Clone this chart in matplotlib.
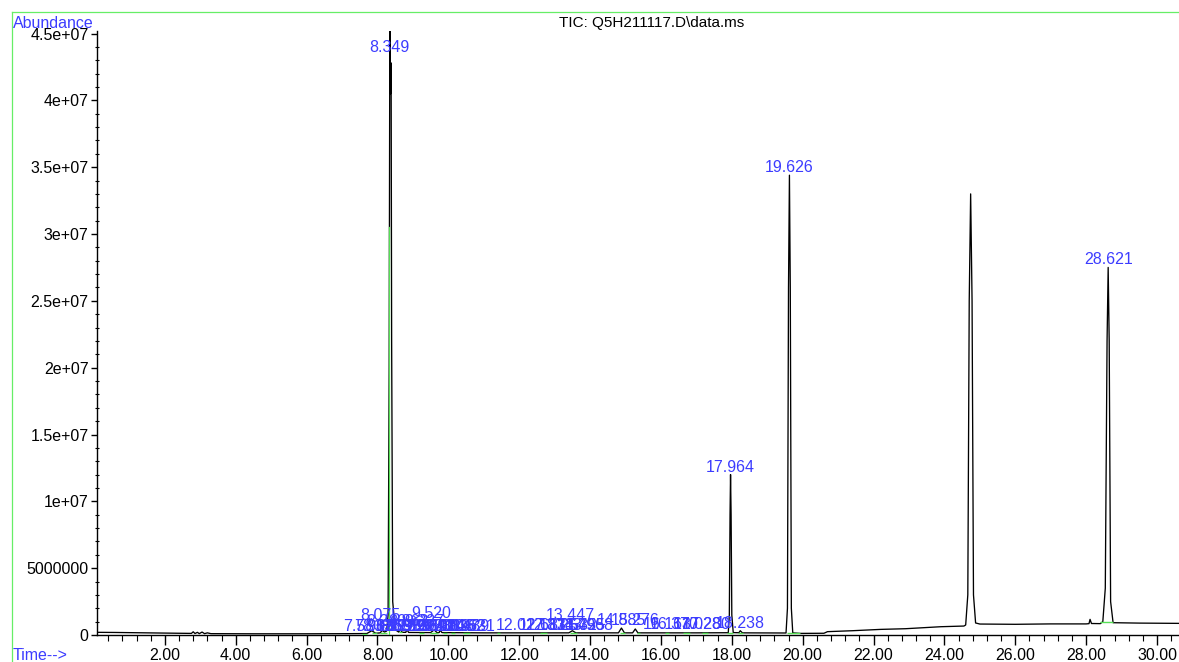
import matplotlib
matplotlib.use("Agg")
import matplotlib.pyplot as plt
from matplotlib.lines import Line2D
from matplotlib.ticker import FixedLocator, FixedFormatter, MultipleLocator

plt.rcParams['font.family'] = ['Liberation Sans', 'DejaVu Sans']

# ---- total ion chromatogram (time in min, abundance) ----
trace_time = [
    0.085, 0.6, 1.2, 1.8, 2.4, 2.75, 2.8, 2.85, 2.92, 2.97, 3.05, 3.12, 3.2, 3.3,
    4.5, 6.0, 7.2, 7.7, 7.84, 7.95, 8.08, 8.13, 8.2, 8.26, 8.30, 8.33, 8.349,
    8.37, 8.385, 8.40, 8.43, 8.50, 8.6, 8.64, 8.7, 8.8, 8.83, 8.88, 9.5, 9.6,
    9.68, 9.74, 9.77, 9.82, 11.0, 13.4, 13.5, 13.6, 14.8, 14.885, 14.97, 15.2,
    15.276, 15.35, 17.0, 17.90, 17.93, 17.95, 17.964, 17.98, 18.00, 18.04, 18.2,
    18.238, 18.3, 19.53, 19.57, 19.60, 19.626, 19.65, 19.68, 19.72, 19.93, 20.6,
    20.7, 21.4, 22.2, 22.9, 23.9, 24.55, 24.60, 24.66, 24.70, 24.74, 24.78,
    24.82, 24.88, 25.0, 26.0, 27.0, 28.0, 28.08, 28.11, 28.15, 28.4, 28.47,
    28.54, 28.59, 28.621, 28.65, 28.69, 28.76, 29.5, 30.62,
]
trace_abund = [
    2.0e5, 1.9e5, 1.7e5, 1.5e5, 1.3e5, 1.2e5, 2.4e5, 1.1e5, 2.0e5, 1.0e5, 2.2e5, 1.0e5, 1.6e5, 1.0e5,
    9.0e4, 9.0e4, 1.0e5, 1.1e5, 3.2e5, 1.3e5, 1.6e5, 3.5e5, 2.2e5, 3.0e5, 1.5e6, 2.0e7, 4.6e7,
    4.05e7, 4.28e7, 2.2e7, 2.5e6, 4.0e5, 2.2e5, 4.0e5, 2.0e5, 2.0e5, 4.0e5, 1.9e5, 1.8e5, 3.8e5,
    1.8e5, 1.8e5, 3.6e5, 1.8e5, 1.6e5, 1.6e5, 3.2e5, 1.6e5, 1.6e5, 5.2e5, 1.6e5, 1.6e5,
    4.5e5, 1.6e5, 1.6e5, 1.7e5, 1.5e6, 9.0e6, 1.2e7, 9.0e6, 1.5e6, 1.8e5, 1.7e5,
    3.2e5, 1.6e5, 1.5e5, 2.0e6, 2.6e7, 3.44e7, 2.6e7, 2.0e6, 1.6e5, 1.2e5, 1.3e5,
    2.5e5, 3.2e5, 4.2e5, 4.7e5, 6.2e5, 6.7e5, 7.5e5, 3.0e6, 2.5e7, 3.30e7, 2.5e7,
    3.0e6, 9.0e5, 8.2e5, 8.0e5, 8.3e5, 8.3e5, 8.5e5, 1.17e6, 8.6e5, 8.5e5, 1.0e6,
    3.5e6, 2.2e7, 2.75e7, 2.2e7, 2.5e6, 9.2e5, 8.9e5, 8.7e5,
]

# ---- labelled main peaks (retention time, min) ----
major_rt = [8.349, 17.964, 19.626, 28.621]

# ---- small integrated peaks: retention time and label height ----
minor_rt = [7.583, 7.902, 8.075, 8.136, 8.240, 8.512, 8.651, 8.789, 8.862, 8.935,
            9.107, 9.278, 9.327, 9.384, 9.520, 9.642, 9.788, 9.914, 10.046, 10.197,
            10.352, 10.489, 10.631, 12.027, 12.681, 12.874, 13.254, 13.447, 13.532,
            13.755, 13.968, 14.885, 15.276, 16.163, 16.370, 17.028, 17.280, 18.238]
minor_level = [5e4, 5e4, 9e5, 5e4, 4.5e5, 5e4, 5e4, 5e4, 4.5e5, 5e4,
               5e4, 5e4, 4.5e5, 5e4, 1.05e6, 5e4, 5e4, 5e4, 5e4, 5e4,
               5e4, 5e4, 5e4, 1.5e5, 1.5e5, 1.5e5, 1.5e5, 9e5, 1.5e5,
               1.5e5, 1.5e5, 5.2e5, 5.2e5, 2.2e5, 2.2e5, 2.2e5, 2.2e5, 3.2e5]

# ---- integration baselines (start, end, abundance) ----
base_start = [7.56, 7.85, 8.07, 8.60, 9.16, 9.48, 9.85, 10.07, 10.41, 11.37, 12.59,
              13.43, 14.85, 15.33, 16.12, 16.62, 17.16, 17.87, 18.18, 19.56, 28.39]
base_end = [7.70, 7.99, 8.27, 8.70, 9.30, 9.71, 9.96, 10.18, 10.61, 11.46, 12.79,
            13.63, 14.99, 15.41, 16.23, 16.82, 17.33, 18.04, 18.32, 19.93, 28.76]
base_level = [1.1e5, 1.2e5, 1.6e5, 2.0e5, 1.8e5, 1.8e5, 1.8e5, 1.7e5, 1.7e5, 1.6e5, 1.6e5,
              1.6e5, 1.6e5, 1.6e5, 1.6e5, 1.6e5, 1.6e5, 1.7e5, 1.7e5, 1.3e5, 9.6e5]
split_rt = 8.32
split_top = 3.05e7

# ---- axis ticks ----
ytick_values = [0, 5e6, 1e7, 1.5e7, 2e7, 2.5e7, 3e7, 3.5e7, 4e7, 4.5e7]
ytick_labels = ["0", "5000000", "1e+07", "1.5e+07", "2e+07", "2.5e+07",
                "3e+07", "3.5e+07", "4e+07", "4.5e+07"]
xtick_values = [2, 4, 6, 8, 10, 12, 14, 16, 18, 20, 22, 24, 26, 28, 30]
xtick_labels = ["%.2f" % v for v in xtick_values]

title_text = "TIC: Q5H211117.D\\data.ms"

W, H = 1179, 662
fig = plt.figure(figsize=(W / 100, H / 100), dpi=100)
ax = fig.add_axes([97 / W, (H - 635) / H, (W - 97) / W, (635 - 30.7) / H])

black = "#000000"
blue = "#3c3cff"
green = "#55e055"

ax.plot(trace_time, trace_abund, color=black, lw=0.95, zorder=3)

# integration markers, drawn over the trace
for s, e, lv in zip(base_start, base_end, base_level):
    ax.plot([s, e], [lv, lv], color=green, lw=1.0, solid_capstyle="butt", zorder=4)
ax.plot([split_rt, split_rt], [0, split_top], color=green, lw=0.9, zorder=4)

ax.set_xlim(0.085, 30.62)
ax.set_ylim(0, 4.521e7)

# peak labels: centred on the retention time, just above the apex
label_cap = 4.34e7
for rt in major_rt:
    apex = trace_abund[trace_time.index(rt)]
    ax.annotate("%.3f" % rt, xy=(rt, min(apex, label_cap)), xytext=(0, 3),
                textcoords="offset pixels", ha="center", va="baseline",
                color=blue, fontsize=11.5, zorder=5)
for rt, lv in zip(minor_rt, minor_level):
    ax.annotate("%.3f" % rt, xy=(rt, lv), xytext=(0, 3),
                textcoords="offset pixels", ha="center", va="baseline",
                color=blue, fontsize=11.5, zorder=5)

# spines and ticks
for side in ("top", "right"):
    ax.spines[side].set_visible(False)
for side in ("left", "bottom"):
    ax.spines[side].set_linewidth(1.0)
    ax.spines[side].set_color(black)

ax.yaxis.set_major_locator(FixedLocator(ytick_values))
ax.yaxis.set_major_formatter(FixedFormatter(ytick_labels))
ax.yaxis.set_minor_locator(MultipleLocator(1e6))
ax.xaxis.set_major_locator(FixedLocator(xtick_values))
ax.xaxis.set_major_formatter(FixedFormatter(xtick_labels))
ax.xaxis.set_minor_locator(MultipleLocator(0.4))

ax.tick_params(axis="y", which="major", direction="out", length=4, width=1.0,
               pad=2, labelsize=11.5, colors=black)
ax.tick_params(axis="y", which="minor", direction="inout", length=3, width=0.8)
ax.tick_params(axis="x", which="major", direction="out", length=7.5, width=1.0,
               pad=1.5, labelsize=11.5, colors=black)
ax.tick_params(axis="x", which="minor", direction="out", length=4.5, width=0.8)

# figure annotations
fig.text(13 / W, 1 - 23 / H, "Abundance", color=blue, fontsize=11.5,
         ha="left", va="center")
fig.text(13 / W, 1 - 655 / H, "Time-->", color=blue, fontsize=11.5,
         ha="left", va="center")
fig.text(652 / W, 1 - 23 / H, title_text, color=black, fontsize=11,
         ha="center", va="center")

# frame
fig.add_artist(Line2D([12 / W, 12 / W], [1 - 12 / H, 0], color="#66ee66", lw=0.9))
fig.add_artist(Line2D([12 / W, 1], [1 - 12 / H, 1 - 12 / H], color="#66ee66", lw=0.9))

fig.savefig("out.png", dpi=100)
